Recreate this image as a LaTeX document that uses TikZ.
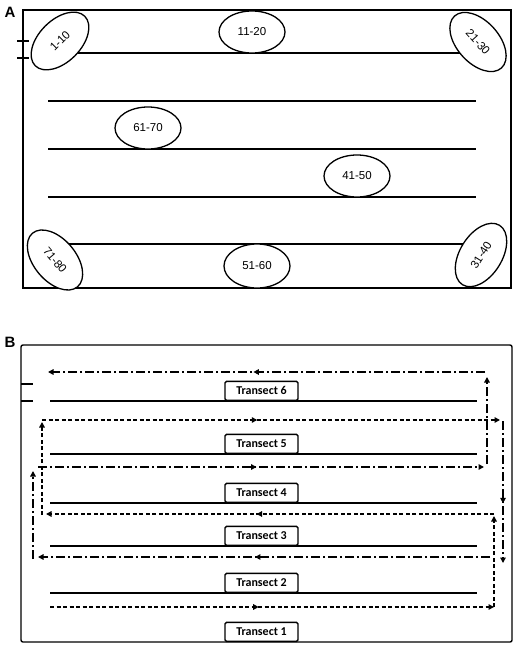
\documentclass[tikz,border=0pt]{standalone}
\usepackage{fontspec}
\setmainfont{Liberation Sans}
\newfontfamily\carlfont{Carlito}
\usetikzlibrary{shapes.geometric,arrows.meta,decorations.markings}

\begin{document}
\begin{tikzpicture}[x=1pt,y=-1pt,
  panelframe/.style={draw=black, line width=1.4pt},
  tline/.style={line width=1.5pt},
  zone/.style={ellipse, draw, line width=1.3pt, fill=white, minimum width=66pt, minimum height=42pt, inner sep=0pt, font=\fontsize{11.5}{12}\selectfont},
  tzone/.style={zone, minimum width=70pt, minimum height=42pt},
  tbox/.style={draw, line width=1.3pt, fill=white, rounded corners=1.5pt, minimum width=73pt, minimum height=19pt, inner sep=0pt, anchor=south, font=\carlfont\bfseries\fontsize{12}{13}\selectfont},
  plabel/.style={font=\bfseries\fontsize{15}{16}\selectfont, inner sep=0pt},
  endtip/.style={-{Triangle[length=5.5pt,width=5.5pt]}},
  midarrow/.style={postaction={decorate}, decoration={markings, mark=at position #1 with {\arrow{Triangle[length=5.5pt,width=5.5pt]}}}},
  routeA/.style={line width=1.5pt, dash pattern=on 4pt off 2.5pt},
  routeB/.style={line width=1.5pt, dash pattern=on 9pt off 3pt on 2pt off 3pt}
]
\useasboundingbox (0,0) rectangle (521,650);

% ---------------- Panel A ----------------
\node[plabel] (labA) at (10,12) {A};
\draw[panelframe] (23,10) rectangle (511,288);
\draw[line width=1.3pt] (17,41) -- (29,41);
\draw[line width=1.3pt] (17,58) -- (29,58);

\draw[tline] (60,53) -- (478,53);
\draw[tline] (48,101) -- (476,101);
\draw[tline] (48,149) -- (476,149);
\draw[tline] (48,197) -- (476,197);
\draw[tline] (55,244) -- (481,244);

\node[tzone, rotate=45] (z1) at (60,41) {1-10};
\node[zone] (z2) at (252,32) {11-20};
\node[tzone, rotate=-48] (z3) at (478,42) {21-30};
\node[zone] (z7) at (148,128) {61-70};
\node[zone] (z5) at (357,176) {41-50};
\node[tzone, rotate=-50] (z8) at (55,260) {71-80};
\node[zone, minimum height=44pt] (z6) at (257,266) {51-60};
\node[tzone, rotate=58] (z4) at (481,255) {31-40};

% ---------------- Panel B ----------------
\node[plabel] (labB) at (10,342) {B};
\draw[panelframe, rounded corners=2pt] (21,345) rectangle (512,642);
\draw[line width=1.3pt] (21,384) -- (33,384);
\draw[line width=1.3pt] (21,401) -- (33,401);

\draw[tline] (50,401) -- (477,401);
\draw[tline] (50,454) -- (477,454);
\draw[tline] (50,503) -- (477,503);
\draw[tline] (50,546) -- (477,546);
\draw[tline] (50,593) -- (477,593);

\node[tbox] (t6) at (261.5,401) {Transect 6};
\node[tbox] (t5) at (261.5,454) {Transect 5};
\node[tbox] (t4) at (261.5,503) {Transect 4};
\node[tbox] (t3) at (261.5,546) {Transect 3};
\node[tbox] (t2) at (261.5,593) {Transect 2};
\node[tbox] (t1) at (261.5,642) {Transect 1};

% route coordinates
\coordinate (a1) at (50,607);
\coordinate (a2) at (494,607);
\coordinate (a3) at (494,516);
\coordinate (a4) at (494,514);
\coordinate (a5) at (46,514);
\coordinate (a6) at (42,515);
\coordinate (a7) at (42,422);
\coordinate (a8) at (42,420);
\coordinate (a9) at (500,420);

\coordinate (b1) at (503,421);
\coordinate (b2) at (503,563);
\coordinate (b3) at (490,557);
\coordinate (b4) at (38,557);
\coordinate (b5) at (33,559);
\coordinate (b6) at (33,471);
\coordinate (b7) at (38,467);
\coordinate (b8) at (484,467);
\coordinate (b9) at (487,464);
\coordinate (b10) at (487,377);
\coordinate (b11) at (485,372);
\coordinate (b12) at (48,372);

% dashed route
\draw[routeA, endtip, midarrow=0.47] (a1) -- (a2);
\draw[routeA, endtip] (a2) -- (a3);
\draw[routeA, endtip, midarrow=0.53] (a4) -- (a5);
\draw[routeA, endtip] (a6) -- (a7);
\draw[routeA, endtip, midarrow=0.47] (a8) -- (a9);

% dash-dot route
\draw[routeB, endtip, midarrow=0.58] (b1) -- (b2);
\draw[routeB, endtip, midarrow=0.52] (b3) -- (b4);
\draw[routeB, endtip] (b5) -- (b6);
\draw[routeB, endtip, midarrow=0.49] (b7) -- (b8);
\draw[routeB, endtip] (b9) -- (b10);
\draw[routeB, endtip, midarrow=0.53] (b11) -- (b12);
\end{tikzpicture}
\end{document}
